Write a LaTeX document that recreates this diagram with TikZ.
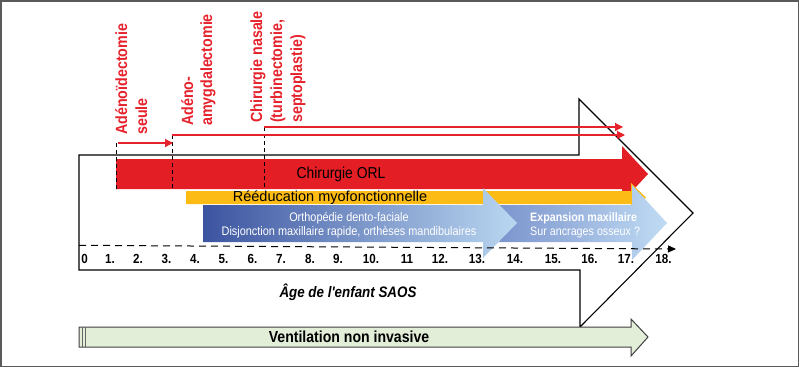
\documentclass[tikz,border=0pt]{standalone}
\usepackage{fontspec}
\setmainfont{Liberation Sans}
\newfontfamily\condf[FakeStretch=0.88]{Liberation Sans}
\usetikzlibrary{arrows.meta}
\definecolor{orlred}{RGB}{227,30,36}
\definecolor{lblred}{RGB}{230,35,45}
\definecolor{myoyel}{RGB}{253,188,21}
\definecolor{bluedark}{RGB}{60,84,160}
\definecolor{bluelight}{RGB}{186,215,241}
\definecolor{bluemid}{RGB}{118,142,202}
\definecolor{bluelight2}{RGB}{192,220,243}
\definecolor{ventgreen}{RGB}{226,238,216}
\definecolor{framegray}{RGB}{90,90,90}
\tikzset{
  redlab/.style={rotate=90, anchor=base west, inner sep=0pt, text=lblred,
    font=\condf\bfseries\fontsize{16.2}{18}\selectfont},
  redarrow/.style={draw=lblred, line width=1.2pt, -{Triangle[length=8pt,width=8pt]}},
  vdashline/.style={draw=black, line width=1pt, dash pattern=on 4pt off 3pt},
  ticklab/.style={anchor=base, inner sep=0pt, font=\condf\bfseries\fontsize{13.2}{14}\selectfont},
  bluetext/.style={inner sep=0pt, text=white, font=\condf\fontsize{12.4}{14}\selectfont},
}
\begin{document}
\begin{tikzpicture}[x=1pt,y=-1pt]
\useasboundingbox (0,0) rectangle (800,368);
\fill[white] (0,0) rectangle (800,368);
\draw[framegray, line width=1.3pt] (1,1) rectangle (798.5,366.5);

% big outline arrow
\draw[black, line width=1.1pt, line join=miter]
  (79,155) -- (579,155) -- (579,99) -- (693,213) -- (580,327) -- (580,270) -- (79,270) -- cycle;

% red bar
\fill[orlred] (116,159) -- (622,159) -- (622,146) -- (648,174) -- (622,202) -- (622,189) -- (116,189) -- cycle;
\node[inner sep=0pt, font=\condf\fontsize{15.8}{18}\selectfont] (orl) at (341,174) {Chirurgie ORL};

% yellow bar
\fill[myoyel] (186,191) -- (631,191) -- (631,183) -- (646,197.5) -- (631,212) -- (631,204) -- (186,204) -- cycle;
\node[inner sep=0pt, font=\fontsize{14.5}{16}\selectfont] (myo) at (330,197.5) {Rééducation myofonctionnelle};

% blue arrow 2
\shade[left color=bluemid, right color=bluelight2]
  (483,205) -- (632,205) -- (632,185) -- (667,223) -- (632,260) -- (632,242) -- (483,242) -- cycle;
% blue arrow 1
\shade[left color=bluedark, right color=bluelight]
  (203,205) -- (483,205) -- (483,188) -- (517,223) -- (483,258) -- (483,242) -- (203,242) -- cycle;
\node[bluetext] (ortho) at (349,218) {Orthopédie dento-faciale};
\node[bluetext] (disj) at (349,232) {Disjonction maxillaire rapide, orthèses mandibulaires};
\node[bluetext, anchor=west, font=\condf\bfseries\fontsize{12.2}{14}\selectfont] (expa) at (530,218) {Expansion maxillaire};
\node[bluetext, anchor=west, font=\condf\fontsize{12.2}{14}\selectfont] (ancr) at (530,232) {Sur ancrages osseux ?};

% vertical dashed lines
\coordinate (v1t) at (116,143); \coordinate (v1b) at (116,189);
\coordinate (v2t) at (172,135); \coordinate (v2b) at (172,189);
\coordinate (v3t) at (264,127); \coordinate (v3b) at (264,189);
\draw[vdashline] (v1t) -- (v1b);
\draw[vdashline] (v2t) -- (v2b);
\draw[vdashline] (v3t) -- (v3b);

% red arrows
\coordinate (r1s) at (118,143); \coordinate (r1e) at (173,143);
\coordinate (r2s) at (172,135); \coordinate (r2e) at (625,135);
\coordinate (r3s) at (264,127); \coordinate (r3e) at (623,127);
\draw[redarrow] (r1s) -- (r1e);
\draw[redarrow] (r2s) -- (r2e);
\draw[redarrow] (r3s) -- (r3e);

% red labels
\node[redlab] (l1a) at (127,135) {Adénoïdectomie};
\node[redlab] (l1b) at (147,135) {seule};
\node[redlab] (l2a) at (193,126) {Adéno-};
\node[redlab] (l2b) at (212,126) {amygdalectomie};
\node[redlab] (l3a) at (262,123) {Chirurgie nasale};
\node[redlab] (l3b) at (282,123) {(turbinectomie,};
\node[redlab] (l3c) at (302,123) {septoplastie)};

% axis
\coordinate (ax0) at (79,245.3); \coordinate (ax1) at (676,249);
\draw[black, line width=1pt, dash pattern=on 7pt off 5pt, -{Triangle[length=8pt,width=7pt]}] (ax0) -- (ax1);

% ticks
\foreach \lab/\xx in {0/84.5,1./110,2./138,3./166.5,4./195,5./223.5,6./252.5,7./281,8./310,9./338,10./371,11/407,12./440,13./477,14./515,15./553,16./589.5,17./626,18./663.5}
  \node[ticklab] (t\xx) at (\xx,263.5) {\lab};

\node[inner sep=0pt, font=\condf\bfseries\itshape\fontsize{15.2}{16}\selectfont] (age) at (348,292) {Âge de l'enfant SAOS};

% ventilation arrow
\draw[fill=ventgreen, draw=black!75, line width=1pt]
  (79,327) -- (631,327) -- (631,319) -- (648,337) -- (631,356) -- (631,347) -- (79,347) -- cycle;
\draw[black!60, line width=0.8pt] (82.5,327) -- (82.5,347) (85.5,327) -- (85.5,347);
\node[inner sep=0pt, font=\condf\bfseries\fontsize{16}{16}\selectfont] (vent) at (349,337) {Ventilation non invasive};
\end{tikzpicture}
\end{document}
